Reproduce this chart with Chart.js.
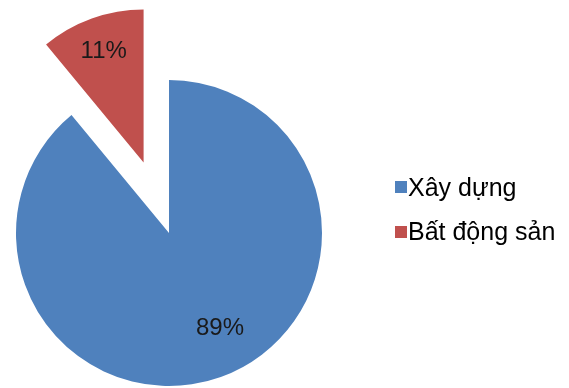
<!DOCTYPE html>
<html>
<head>
<meta charset="utf-8">
<script src="https://cdn.jsdelivr.net/npm/chart.js@4/dist/chart.umd.min.js"></script>
<style>
    html, body { margin: 0; padding: 0; background: #fff; }
    #wrap { position: relative; width: 569px; height: 388px; }
    #legend {
        position: absolute; left: 395px; top: 165px;
        font-family: "Liberation Sans", Arial, sans-serif; font-size: 25px; color: #000;
    }
    .item { display: flex; align-items: center; height: 44.5px; white-space: nowrap; }
    .box { width: 12px; height: 12px; margin-right: 1px; }
</style>
</head>
<body>
<div id="wrap">
    <canvas id="chart" width="569" height="388"></canvas>
    <div id="legend"></div>
</div>
<script>
const categories = ['Xây dựng', 'Bất động sản'];
const shares = [89, 11];
const sliceLabels = ['89%', '11%'];
const colors = ['#4F81BD', '#C0504D'];

// pull a slice out along its bisector, without growing it like arc "offset" does
const explodePlugin = {
    id: 'explode',
    afterDatasetUpdate(chart, args, opts) {
        args.meta.data.forEach((arc, i) => {
            const d = opts.distance[i] || 0;
            if (!d) return;
            const mid = (arc.startAngle + arc.endAngle) / 2;
            arc.x += Math.cos(mid) * d;
            arc.y += Math.sin(mid) * d;
        });
    }
};

const sliceLabelPlugin = {
    id: 'sliceLabels',
    afterDatasetsDraw(chart, args, opts) {
        const ctx = chart.ctx;
        const arcs = chart.getDatasetMeta(0).data;
        ctx.save();
        ctx.font = opts.font;
        ctx.fillStyle = opts.color;
        ctx.textAlign = 'center';
        ctx.textBaseline = 'middle';
        arcs.forEach((arc, i) => {
            // excel nudges the big slice's label off the bisector a little
            const mid = (arc.startAngle + arc.endAngle) / 2 + (opts.turn[i] || 0) * Math.PI / 180;
            const r = arc.outerRadius * opts.radius[i];
            ctx.fillText(sliceLabels[i], arc.x + Math.cos(mid) * r, arc.y + Math.sin(mid) * r);
        });
        ctx.restore();
    }
};

new Chart(document.getElementById('chart'), {
    type: 'pie',
    data: {
        labels: categories,
        datasets: [{
            data: shares,
            backgroundColor: colors,
            borderWidth: 0
        }]
    },
    options: {
        responsive: false,
        animation: false,
        radius: 153,
        clip: false,
        layout: { padding: { left: 0, right: 231, top: 78, bottom: 0 } },
        plugins: {
            legend: { display: false },
            tooltip: { enabled: false },
            explode: { distance: [0, 75] },
            sliceLabels: {
                font: '24px "Liberation Sans", Arial, sans-serif',
                color: '#1a1a1a',
                radius: [0.705, 0.77],
                turn: [-8.4, 0]
            }
        }
    },
    plugins: [explodePlugin, sliceLabelPlugin]
});

const legend = document.getElementById('legend');
categories.forEach((name, i) => {
    const row = document.createElement('div');
    row.className = 'item';
    row.innerHTML = `<span class="box" style="background:${colors[i]}"></span><span>${name}</span>`;
    legend.appendChild(row);
});
</script>
</body>
</html>
